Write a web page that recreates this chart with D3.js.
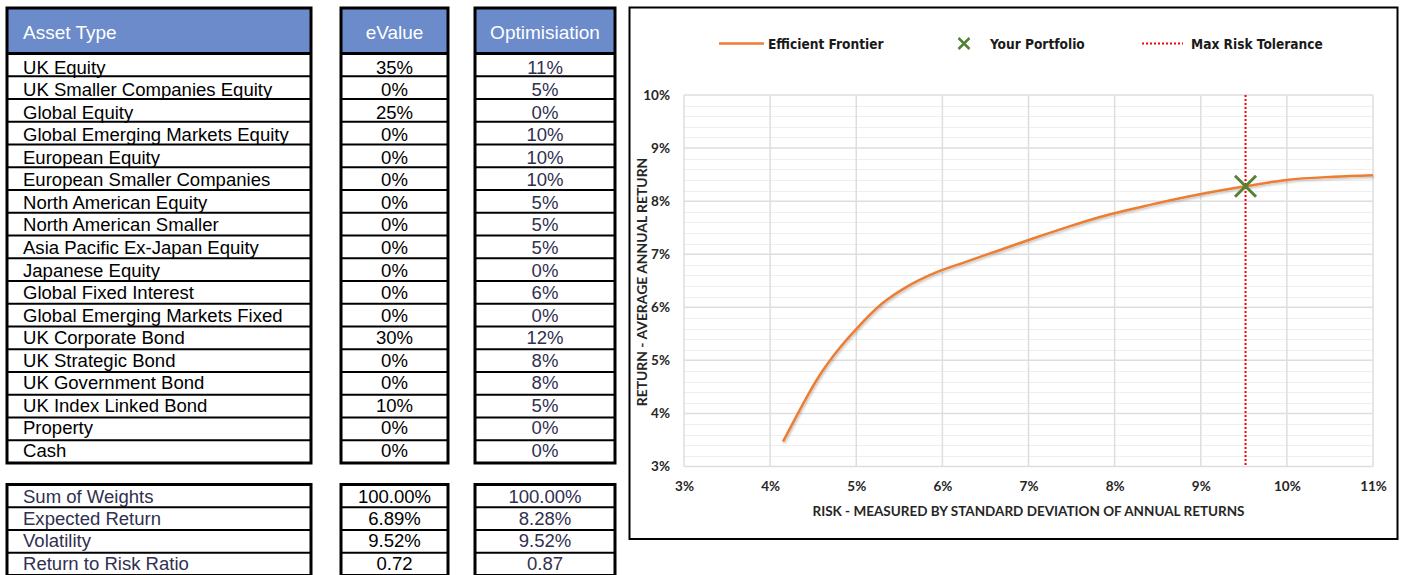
<!DOCTYPE html>
<html>
<head>
<meta charset="utf-8">
<script src="https://cdn.jsdelivr.net/npm/d3@7"></script>
<style>
  html, body { margin: 0; padding: 0; background: #ffffff; }
  svg { display: block; }
</style>
</head>
<body>
<svg id="view" width="1403" height="575"></svg>
<script>
// ---- Allocation tables ----
const assetTypes = [
  "UK Equity", "UK Smaller Companies Equity", "Global Equity",
  "Global Emerging Markets Equity", "European Equity", "European Smaller Companies",
  "North American Equity", "North American Smaller", "Asia Pacific Ex-Japan Equity",
  "Japanese Equity", "Global Fixed Interest", "Global Emerging Markets Fixed",
  "UK Corporate Bond", "UK Strategic Bond", "UK Government Bond",
  "UK Index Linked Bond", "Property", "Cash"
];
const eValueWeights       = [0.35, 0, 0.25, 0, 0, 0, 0, 0, 0, 0, 0, 0, 0.30, 0, 0, 0.10, 0, 0];
const optimisationWeights = [0.11, 0.05, 0, 0.10, 0.10, 0.10, 0.05, 0.05, 0.05, 0, 0.06, 0, 0.12, 0.08, 0.08, 0.05, 0, 0];

const tableHeaders = ["Asset Type", "eValue", "Optimisiation"];

const summaryLabels       = ["Sum of Weights", "Expected Return", "Volatility", "Return to Risk Ratio"];
const eValueSummary       = [1.0, 0.0689, 0.0952, 0.72];
const optimisationSummary = [1.0, 0.0828, 0.0952, 0.87];
const summaryFormats      = [".2%", ".2%", ".2%", ".2f"];

// ---- Efficient frontier (risk = std dev of annual returns, return = average annual return) ----
const frontierRisk   = [0.0415, 0.0430, 0.0445, 0.0460, 0.0480, 0.0500, 0.0530, 0.0560, 0.0590, 0.0628,
                        0.0667, 0.0706, 0.0745, 0.0783, 0.0841, 0.0899, 0.0952, 0.1000, 0.1054, 0.1100];
const frontierReturn = [0.0347, 0.0393, 0.0438, 0.0478, 0.0522, 0.0559, 0.0607, 0.0640, 0.0664, 0.0686,
                        0.0708, 0.0730, 0.0751, 0.0770, 0.0793, 0.0813, 0.0828, 0.0840, 0.0846, 0.0849];

const portfolioRisk   = 0.0952;
const portfolioReturn = 0.0828;
const maxRiskTolerance = 0.0952;

const xTicks = [0.03, 0.04, 0.05, 0.06, 0.07, 0.08, 0.09, 0.10, 0.11];
const yTicks = [0.03, 0.04, 0.05, 0.06, 0.07, 0.08, 0.09, 0.10];

const legendLabels = ["Efficient Frontier", "Your Portfolio", "Max Risk Tolerance"];
const xAxisTitle = "RISK - MEASURED BY STANDARD DEVIATION OF ANNUAL RETURNS";
const yAxisTitle = "RETURN - AVERAGE ANNUAL RETURN";

// ---- Drawing ----
const svg = d3.select("#view");
const tableFont = "'Liberation Sans', Arial, sans-serif";
const chartFont = "Lato, 'Open Sans', sans-serif";
const legendFont = "'Liberation Sans Narrow', 'DejaVu Sans Condensed', Lato, sans-serif";
const headerFill = "#6b8bcb";
const navy = "#303050";
const pct0 = d3.format(".0%");

const columns = [
  { x0: 7,   x1: 311, align: "start",  color: "#000", values: assetTypes },
  { x0: 341, x1: 448, align: "middle", color: "#000", values: eValueWeights.map(pct0) },
  { x0: 475, x1: 615, align: "middle", color: navy,   values: optimisationWeights.map(pct0) }
];
const summaryColumns = [
  { color: navy, values: summaryLabels },
  { color: "#000", values: eValueSummary.map((v, i) => d3.format(summaryFormats[i])(v)) },
  { color: navy, values: optimisationSummary.map((v, i) => d3.format(summaryFormats[i])(v)) }
];

const headerTop = 8, headerBottom = 53.5;
// row cells and the baselines of their texts
const rowBand = d3.scaleBand().domain(d3.range(assetTypes.length)).range([headerBottom, 463]);
const rowBaseline = d3.scaleLinear().domain([0, assetTypes.length - 1]).range([73.5, 457]);
const sumBand = d3.scaleBand().domain(d3.range(summaryLabels.length)).range([484.5, 575.5]);
const sumBaseline = d3.scaleLinear().domain([0, summaryLabels.length - 1]).range([503, 569.5]);

const cellScaleX = 1.06, headScaleX = 1.055;

function drawTable(g, col, band, baseline, values, color, header) {
  const top = header ? headerTop : band.range()[0];
  const bottom = band.range()[1];
  const tx = col.align === "start" ? col.x0 + 16 : (col.x0 + col.x1) / 2;
  g.append("rect").attr("x", col.x0).attr("y", top).attr("width", col.x1 - col.x0)
    .attr("height", bottom - top).attr("fill", "#fff");
  if (header) {
    g.append("rect").attr("x", col.x0).attr("y", headerTop).attr("width", col.x1 - col.x0)
      .attr("height", headerBottom - headerTop).attr("fill", headerFill);
    g.append("text")
      .attr("transform", `translate(${tx},38.5) scale(${headScaleX},1)`)
      .attr("text-anchor", col.align)
      .attr("font-family", tableFont).attr("font-size", 18).attr("fill", "#fff")
      .text(header);
  }
  g.selectAll("text.cell").data(values).join("text").attr("class", "cell")
    .attr("transform", (d, i) => `translate(${tx},${baseline(i)}) scale(${cellScaleX},1)`)
    .attr("text-anchor", col.align)
    .attr("font-family", tableFont).attr("font-size", 17.5).attr("fill", color)
    .text(d => d);
  // row separators
  g.selectAll("line.sep").data(d3.range(values.length - 1)).join("line").attr("class", "sep")
    .attr("x1", col.x0).attr("x2", col.x1)
    .attr("y1", i => band(i) + band.bandwidth()).attr("y2", i => band(i) + band.bandwidth())
    .attr("stroke", "#000").attr("stroke-width", 2.2);
  if (header) {
    g.append("line").attr("x1", col.x0).attr("x2", col.x1)
      .attr("y1", headerBottom).attr("y2", headerBottom)
      .attr("stroke", "#000").attr("stroke-width", 3);
  }
  g.append("rect").attr("x", col.x0).attr("y", top).attr("width", col.x1 - col.x0)
    .attr("height", bottom - top).attr("fill", "none")
    .attr("stroke", "#000").attr("stroke-width", 3);
}

columns.forEach((col, ci) => {
  drawTable(svg.append("g"), col, rowBand, rowBaseline, col.values, col.color, tableHeaders[ci]);
  const sc = summaryColumns[ci];
  drawTable(svg.append("g"), col, sumBand, sumBaseline, sc.values, sc.color, null);
});

// ---- Chart frame ----
svg.append("rect").attr("x", 629.5).attr("y", 7.5).attr("width", 768).attr("height", 531.5)
  .attr("fill", "#fff").attr("stroke", "#000").attr("stroke-width", 2);

const x = d3.scaleLinear().domain([0.03, 0.11]).range([684, 1373]);
const y = d3.scaleLinear().domain([0.03, 0.10]).range([466.5, 95]);

const grid = svg.append("g");
// minor horizontal gridlines every 0.2%
const minorY = d3.range(0, 36).map(i => 0.03 + i * 0.002).filter((v, i) => i % 5 !== 0);
grid.selectAll("line.minor").data(minorY).join("line").attr("class", "minor")
  .attr("x1", x.range()[0]).attr("x2", x.range()[1])
  .attr("y1", d => Math.round(y(d)) + 0.5).attr("y2", d => Math.round(y(d)) + 0.5)
  .attr("stroke", "#efefef").attr("stroke-width", 1);
grid.selectAll("line.majorY").data(yTicks).join("line").attr("class", "majorY")
  .attr("x1", x.range()[0]).attr("x2", x.range()[1])
  .attr("y1", d => y(d)).attr("y2", d => y(d))
  .attr("stroke", "#dedede").attr("stroke-width", 1.5);
grid.selectAll("line.majorX").data(xTicks).join("line").attr("class", "majorX")
  .attr("y1", y.range()[0]).attr("y2", y.range()[1])
  .attr("x1", d => x(d)).attr("x2", d => x(d))
  .attr("stroke", "#dedede").attr("stroke-width", 1.5);

// axes
const xAxis = svg.append("g").attr("transform", `translate(0,${y.range()[0]})`)
  .call(d3.axisBottom(x).tickValues(xTicks).tickFormat(pct0).tickSize(0).tickPadding(15));
const yAxis = svg.append("g").attr("transform", `translate(${x.range()[0]},0)`)
  .call(d3.axisLeft(y).tickValues(yTicks).tickFormat(pct0).tickSize(0).tickPadding(14));
[xAxis, yAxis].forEach(a => {
  a.select(".domain").remove();
  a.selectAll("text").attr("font-family", chartFont).attr("font-weight", "bold")
    .attr("font-size", 13.5).attr("fill", "#262626");
});

svg.append("text").attr("x", 1028.5).attr("y", 516).attr("text-anchor", "middle")
  .attr("font-family", chartFont).attr("font-weight", "bold").attr("font-size", 13.5)
  .attr("fill", "#262626").text(xAxisTitle);
svg.append("text").attr("transform", "translate(647,282) rotate(-90)").attr("text-anchor", "middle")
  .attr("font-family", chartFont).attr("font-weight", "bold").attr("font-size", 13.9)
  .attr("fill", "#262626").text(yAxisTitle);

// frontier line
const defs = svg.append("defs");
defs.append("filter").attr("id", "soft").attr("x", "-5%").attr("y", "-5%").attr("width", "110%").attr("height", "110%")
  .append("feDropShadow").attr("dx", 1).attr("dy", 1.5).attr("stdDeviation", 1)
  .attr("flood-color", "#000").attr("flood-opacity", 0.25);

const frontier = frontierRisk.map((r, i) => [r, frontierReturn[i]]);
svg.append("path").datum(frontier)
  .attr("d", d3.line().x(d => x(d[0])).y(d => y(d[1])).curve(d3.curveMonotoneX))
  .attr("fill", "none").attr("stroke", "#ED7D31").attr("stroke-width", 2.5)
  .attr("filter", "url(#soft)");

// max risk tolerance
svg.append("line").attr("x1", x(maxRiskTolerance)).attr("x2", x(maxRiskTolerance))
  .attr("y1", y(0.10)).attr("y2", y(0.03))
  .attr("stroke", "#ff0000").attr("stroke-width", 2).attr("stroke-dasharray", "2,2");

// portfolio marker
function cross(g, cx, cy, r, w) {
  g.append("path").attr("d", `M${cx - r},${cy - r}L${cx + r},${cy + r}M${cx - r},${cy + r}L${cx + r},${cy - r}`)
    .attr("stroke", "#548235").attr("stroke-width", w).attr("fill", "none");
}
cross(svg, x(portfolioRisk), y(portfolioReturn), 10.5, 3);

// legend
const leg = svg.append("g").attr("font-family", legendFont).attr("font-weight", "bold")
  .attr("font-size", 13.6).attr("fill", "#1a1a1a");
leg.append("line").attr("x1", 719).attr("x2", 764).attr("y1", 43.5).attr("y2", 43.5)
  .attr("stroke", "#ED7D31").attr("stroke-width", 2.5);
leg.append("text").attr("x", 768).attr("y", 49).text(legendLabels[0]);
cross(leg, 964, 43.5, 5.5, 2.5);
leg.append("text").attr("x", 990).attr("y", 49).text(legendLabels[1]);
leg.append("line").attr("x1", 1142).attr("x2", 1183).attr("y1", 43.5).attr("y2", 43.5)
  .attr("stroke", "#ff0000").attr("stroke-width", 2).attr("stroke-dasharray", "2,2");
leg.append("text").attr("x", 1191).attr("y", 49).text(legendLabels[2]);
</script>
</body>
</html>
